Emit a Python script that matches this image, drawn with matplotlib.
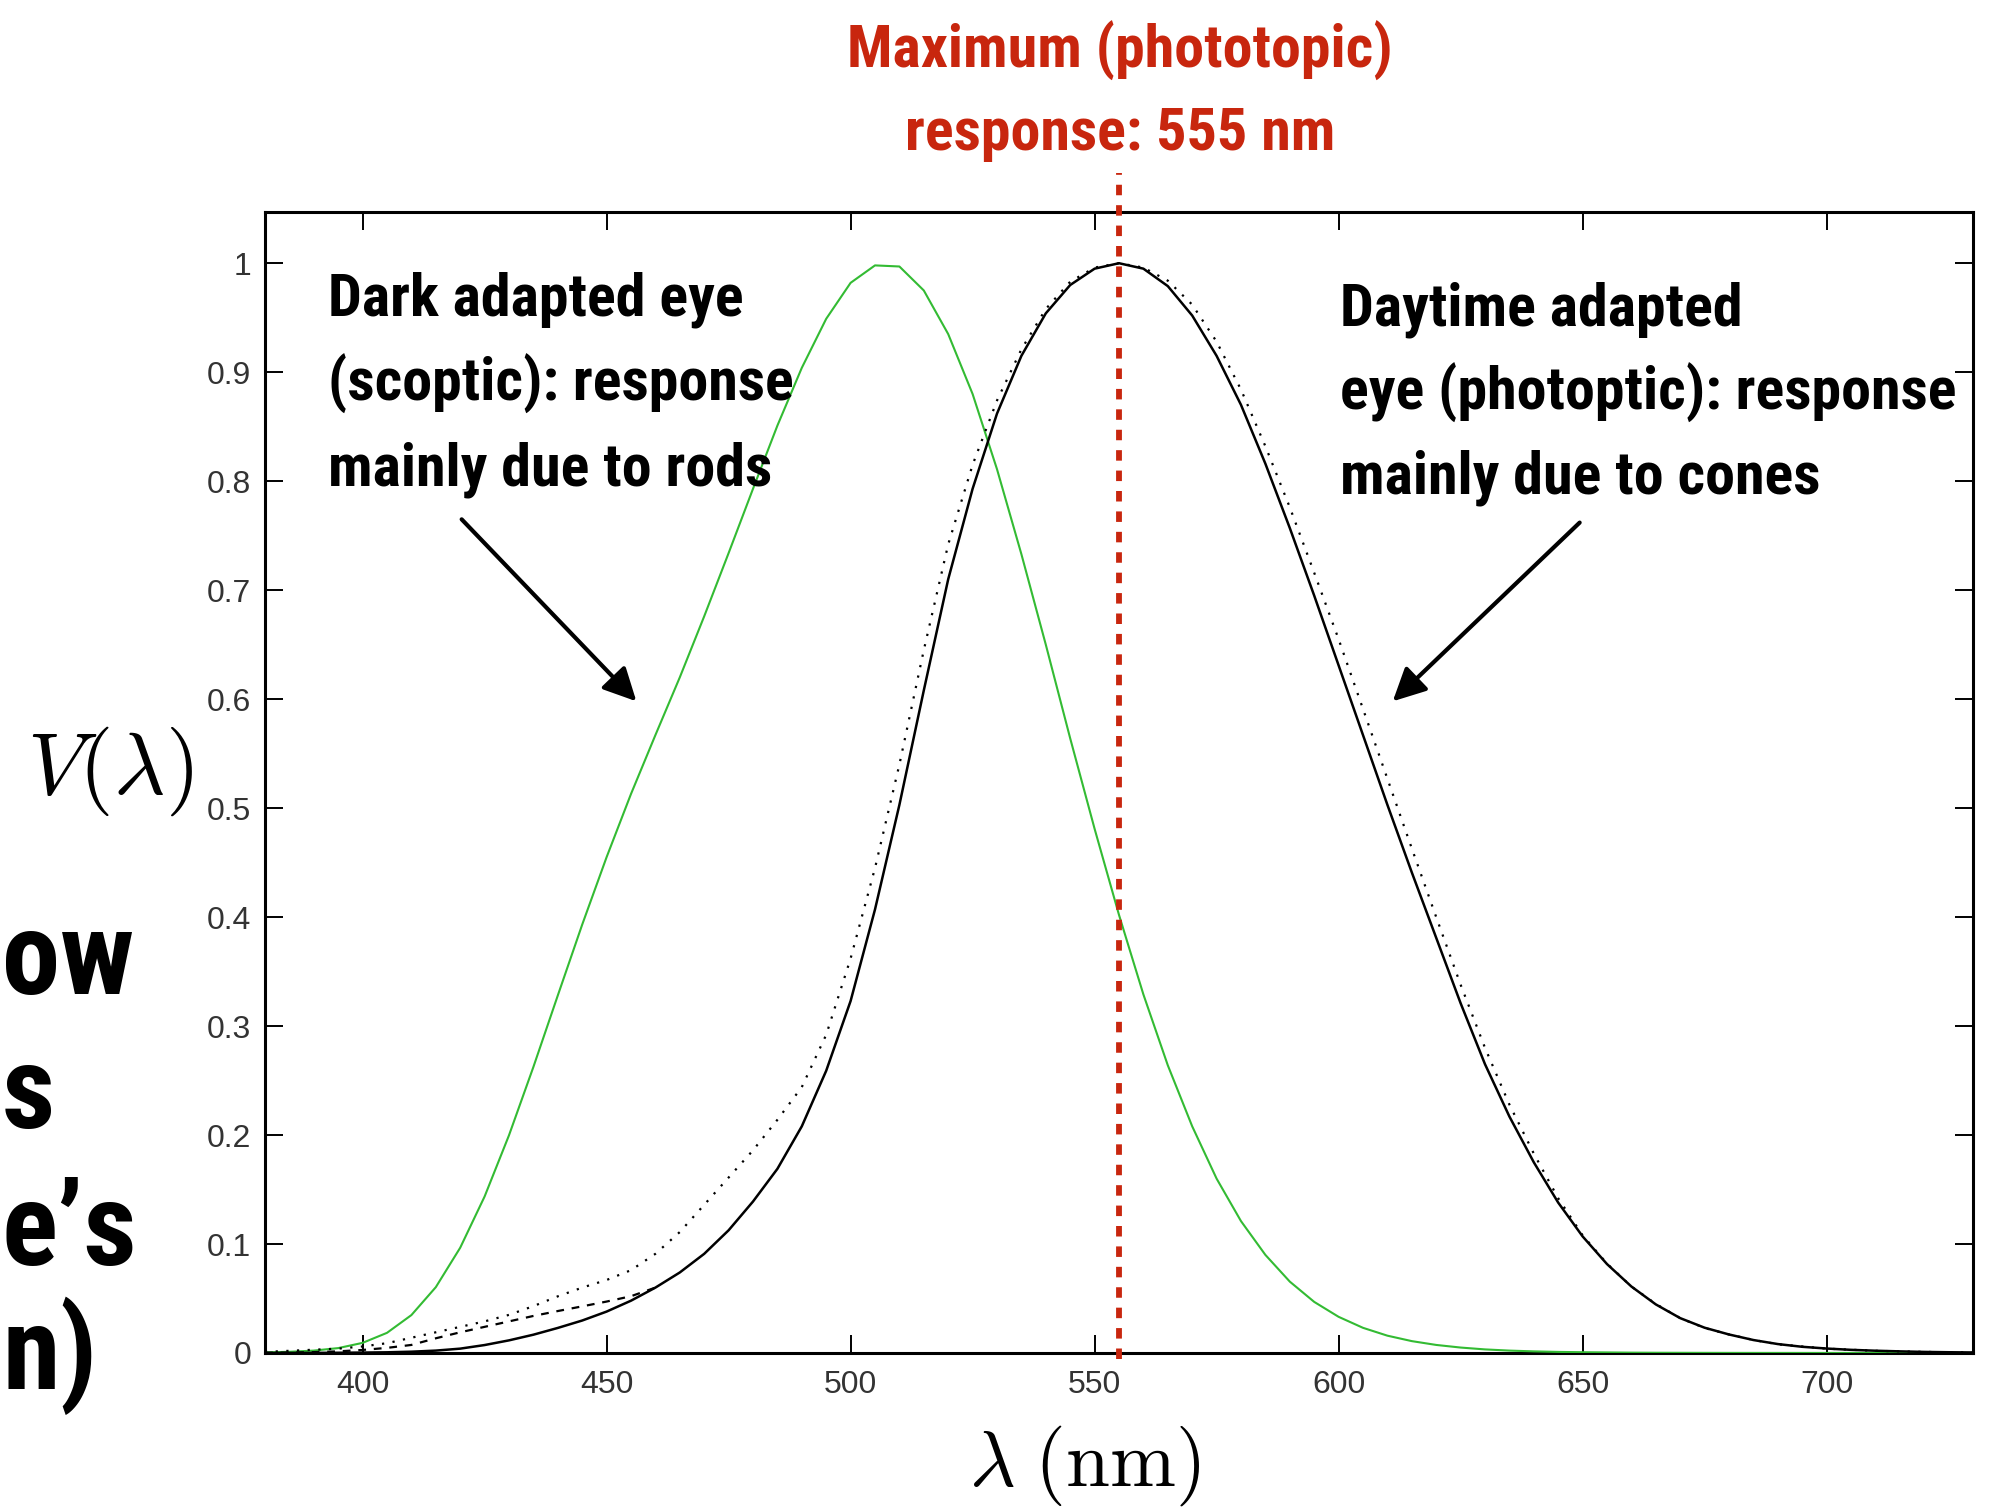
import os
import matplotlib
matplotlib.use("Agg")
import matplotlib.pyplot as plt
from matplotlib import font_manager as fm

# ---------------- data ----------------
wavelength_nm = [380, 385, 390, 395, 400, 405, 410, 415, 420, 425, 430, 435, 440, 445,
                 450, 455, 460, 465, 470, 475, 480, 485, 490, 495, 500, 505, 510, 515,
                 520, 525, 530, 535, 540, 545, 550, 555, 560, 565, 570, 575, 580, 585,
                 590, 595, 600, 605, 610, 615, 620, 625, 630, 635, 640, 645, 650, 655,
                 660, 665, 670, 675, 680, 685, 690, 695, 700, 705, 710, 715, 720, 725, 730]

# dark adapted (scotopic) response - green curve
scotopic = [0.0006, 0.0011, 0.0022, 0.0045, 0.0093, 0.0185, 0.0348, 0.0604, 0.0966, 0.1436,
            0.1998, 0.2625, 0.3281, 0.3931, 0.455, 0.513, 0.567, 0.620, 0.676, 0.734,
            0.793, 0.851, 0.904, 0.949, 0.982, 0.998, 0.997, 0.975, 0.935, 0.880,
            0.811, 0.733, 0.650, 0.564, 0.481, 0.402, 0.329, 0.264, 0.208, 0.160,
            0.121, 0.090, 0.0655, 0.0469, 0.0332, 0.0231, 0.0159, 0.0109, 0.0074, 0.0050,
            0.0033, 0.0022, 0.0015, 0.0010, 0.0007, 0.0005, 0.0003, 0.0002, 0.00015, 0.0001,
            0.00007, 0.00005, 0.00004, 0.00003, 0.00002, 0.00001, 0.00001, 0.00001, 0.0, 0.0, 0.0]

# daytime adapted (photopic) response - solid black curve
photopic = [0.00004, 0.00006, 0.00012, 0.00022, 0.0004, 0.00064, 0.0012, 0.0022, 0.0040, 0.0073,
            0.0116, 0.0168, 0.0230, 0.0298, 0.0380, 0.0480, 0.0600, 0.0739, 0.0910, 0.1126,
            0.139, 0.169, 0.208, 0.259, 0.323, 0.407, 0.503, 0.608, 0.710, 0.793,
            0.862, 0.915, 0.954, 0.980, 0.995, 1.000, 0.995, 0.979, 0.952, 0.915,
            0.870, 0.816, 0.757, 0.695, 0.631, 0.567, 0.503, 0.441, 0.381, 0.321,
            0.265, 0.217, 0.175, 0.138, 0.107, 0.0816, 0.061, 0.0446, 0.032, 0.0232,
            0.017, 0.0119, 0.0082, 0.0057, 0.0041, 0.0029, 0.0021, 0.0015, 0.0010, 0.0007, 0.0005]

# alternative photopic estimate - dotted black curve
photopic_dotted = [0.001, 0.002, 0.003, 0.004, 0.006, 0.009, 0.014, 0.019, 0.024, 0.029,
                   0.035, 0.043, 0.052, 0.060, 0.067, 0.076, 0.091, 0.111, 0.136, 0.161,
                   0.186, 0.214, 0.244, 0.292, 0.362, 0.445, 0.540, 0.645, 0.742, 0.815,
                   0.874, 0.921, 0.958, 0.983, 0.996, 1.000, 0.996, 0.984, 0.962, 0.928,
                   0.884, 0.832, 0.776, 0.716, 0.655, 0.591, 0.527, 0.463, 0.400, 0.338,
                   0.280, 0.228, 0.183, 0.142, 0.108, 0.082, 0.061, 0.045, 0.032, 0.023,
                   0.017, 0.012, 0.008, 0.006, 0.004, 0.003, 0.002, 0.0015, 0.001, 0.0007, 0.0005]

# short-wavelength correction - dashed black curve
dashed_nm = [380, 385, 390, 395, 400, 405, 410, 415, 420, 425, 430, 435, 440, 445, 450, 455, 460]
photopic_dashed = [0.0002, 0.0004, 0.0008, 0.0015, 0.0028, 0.0047, 0.0074, 0.0135, 0.019, 0.024,
                   0.029, 0.034, 0.0385, 0.0428, 0.0472, 0.0521, 0.060]

peak_nm = 555
x_ticks = [400, 450, 500, 550, 600, 650, 700]
y_ticks = [0, 0.1, 0.2, 0.3, 0.4, 0.5, 0.6, 0.7, 0.8, 0.9, 1.0]
y_tick_labels = ["0", "0.1", "0.2", "0.3", "0.4", "0.5", "0.6", "0.7", "0.8", "0.9", "1"]

title_lines = ["Maximum (phototopic)", "response: 555 nm"]
left_note = ["Dark adapted eye", "(scoptic): response", "mainly due to rods"]
right_note = ["Daytime adapted", "eye (photoptic): response", "mainly due to cones"]
side_fragments = ["ow", "s", "e’s", "n)"]


# ---------------- pick a condensed bold face ----------------
def find_condensed_bold():
    prefs = ["robotocondensed-bold.", "roboto-condensedbold", "robotocondensed_bold",
             "opensanscondensed-bold.", "opensans_condensed-bold.", "opensans-condensedbold.",
             "notosans-condensedbold.", "notosans-extracondensedbold.",
             "notosans-semicondensedbold.", "dejavusanscondensed-bold.",
             "liberationsansnarrow-bold."]
    files = [f.fname for f in fm.fontManager.ttflist]
    low = {os.path.basename(p).lower(): p for p in files}
    for pref in prefs:
        for k, p in low.items():
            if k.startswith(pref):
                return p
    for k, p in low.items():
        if ("condensed" in k or "narrow" in k) and "bold" in k and "italic" not in k \
                and "semibold" not in k and "extrabold" not in k and "oblique" not in k:
            return p
    return None


cond_path = find_condensed_bold()
if cond_path:
    def bold_font(size):
        return fm.FontProperties(fname=cond_path, size=size)
else:
    def bold_font(size):
        return fm.FontProperties(family="DejaVu Sans", weight="bold", size=size)

# ---------------- figure ----------------
W, H = 1998, 1510
plt.rcParams["mathtext.fontset"] = "cm"
fig = plt.figure(figsize=(W / 100, H / 100), dpi=100)
fig.patch.set_facecolor("white")


def fx(px):
    return px / W


def fy(py):
    return 1 - py / H


ax = fig.add_axes([fx(265), fy(1353), fx(1973) - fx(265), fy(212) - fy(1353)])
ax.set_xlim(380, 730)
ax.set_ylim(0, 1.047)

ax.plot(wavelength_nm, scotopic, color="#33bb33", lw=1.5, zorder=3)
ax.plot(wavelength_nm, photopic, color="black", lw=1.8, zorder=4)
ax.plot(wavelength_nm, photopic_dotted, color="black", lw=1.6,
        linestyle=(0, (1, 3.8)), zorder=4)
ax.plot(dashed_nm, photopic_dashed, color="black", lw=1.6,
        linestyle=(0, (3.5, 3.5)), zorder=4)

ax.axvline(peak_nm, ymin=-0.005, ymax=1.034, color="#c8260e", lw=4.2,
           linestyle=(0, (1.8, 1.7)), dash_capstyle="butt", clip_on=False, zorder=6)

ax.set_xticks(x_ticks)
ax.set_yticks(y_ticks)
ax.set_yticklabels(y_tick_labels)
ax.tick_params(direction="in", length=13, width=1.4, top=True, right=True,
               labelsize=23, labelcolor="#333333", color="black")
ax.tick_params(axis="x", pad=12)
ax.tick_params(axis="y", pad=10)
for lbl in ax.get_xticklabels() + ax.get_yticklabels():
    lbl.set_family(["Liberation Sans", "DejaVu Sans"])
for s in ax.spines.values():
    s.set_linewidth(2.2)

# axis labels (math)
fig.text(fx(110), fy(771), r"$V(\lambda)$", fontsize=64, ha="center", va="center")
fig.text(fx(1085), fy(1466), r"$\lambda\;(\mathrm{nm})$", fontsize=57, ha="center", va="center")

# annotations (single condensed bold size, fitted to the reference line widths)
red = "#c8260e"
base = 40
texts = []
for txt, yb in zip(title_lines, [68, 150]):
    t = fig.text(fx(1120), fy(yb), txt, fontproperties=bold_font(base), color=red,
                 ha="center", va="baseline")
    texts.append(t)
for txt, yb in zip(left_note, [316, 401, 485]):
    t = fig.text(fx(328), fy(yb), txt, fontproperties=bold_font(base), color="black",
                 ha="left", va="baseline")
    texts.append(t)
for txt, yb in zip(right_note, [325, 410, 494]):
    t = fig.text(fx(1340), fy(yb), txt, fontproperties=bold_font(base), color="black",
                 ha="left", va="baseline")
    texts.append(t)

target_w = [550, 420, 418, 442, 443, 414, 605, 475]
renderer = fig.canvas.get_renderer()
ratios = sorted(tw / t.get_window_extent(renderer).width for t, tw in zip(texts, target_w))
scale = ratios[len(ratios) // 2]
for t in texts:
    t.set_fontsize(base * scale)

arrow_kw = dict(arrowstyle="-|>,head_length=0.5,head_width=0.25", color="black",
                lw=3, mutation_scale=40, shrinkA=0, shrinkB=0)
ax.annotate("", xy=(456.1, 0.598), xytext=(420.3, 0.765), arrowprops=arrow_kw,
            annotation_clip=False)
ax.annotate("", xy=(611.1, 0.598), xytext=(649.4, 0.762), arrowprops=arrow_kw,
            annotation_clip=False)

# fragments of the slide text at the left edge
frag_size = base * scale * 1.95
for txt, yb in zip(side_fragments, [994, 1128, 1265, 1389]):
    fig.text(fx(2), fy(yb), txt, fontproperties=bold_font(frag_size), color="black",
             ha="left", va="baseline")

fig.savefig("out.png", dpi=100, facecolor="white")
